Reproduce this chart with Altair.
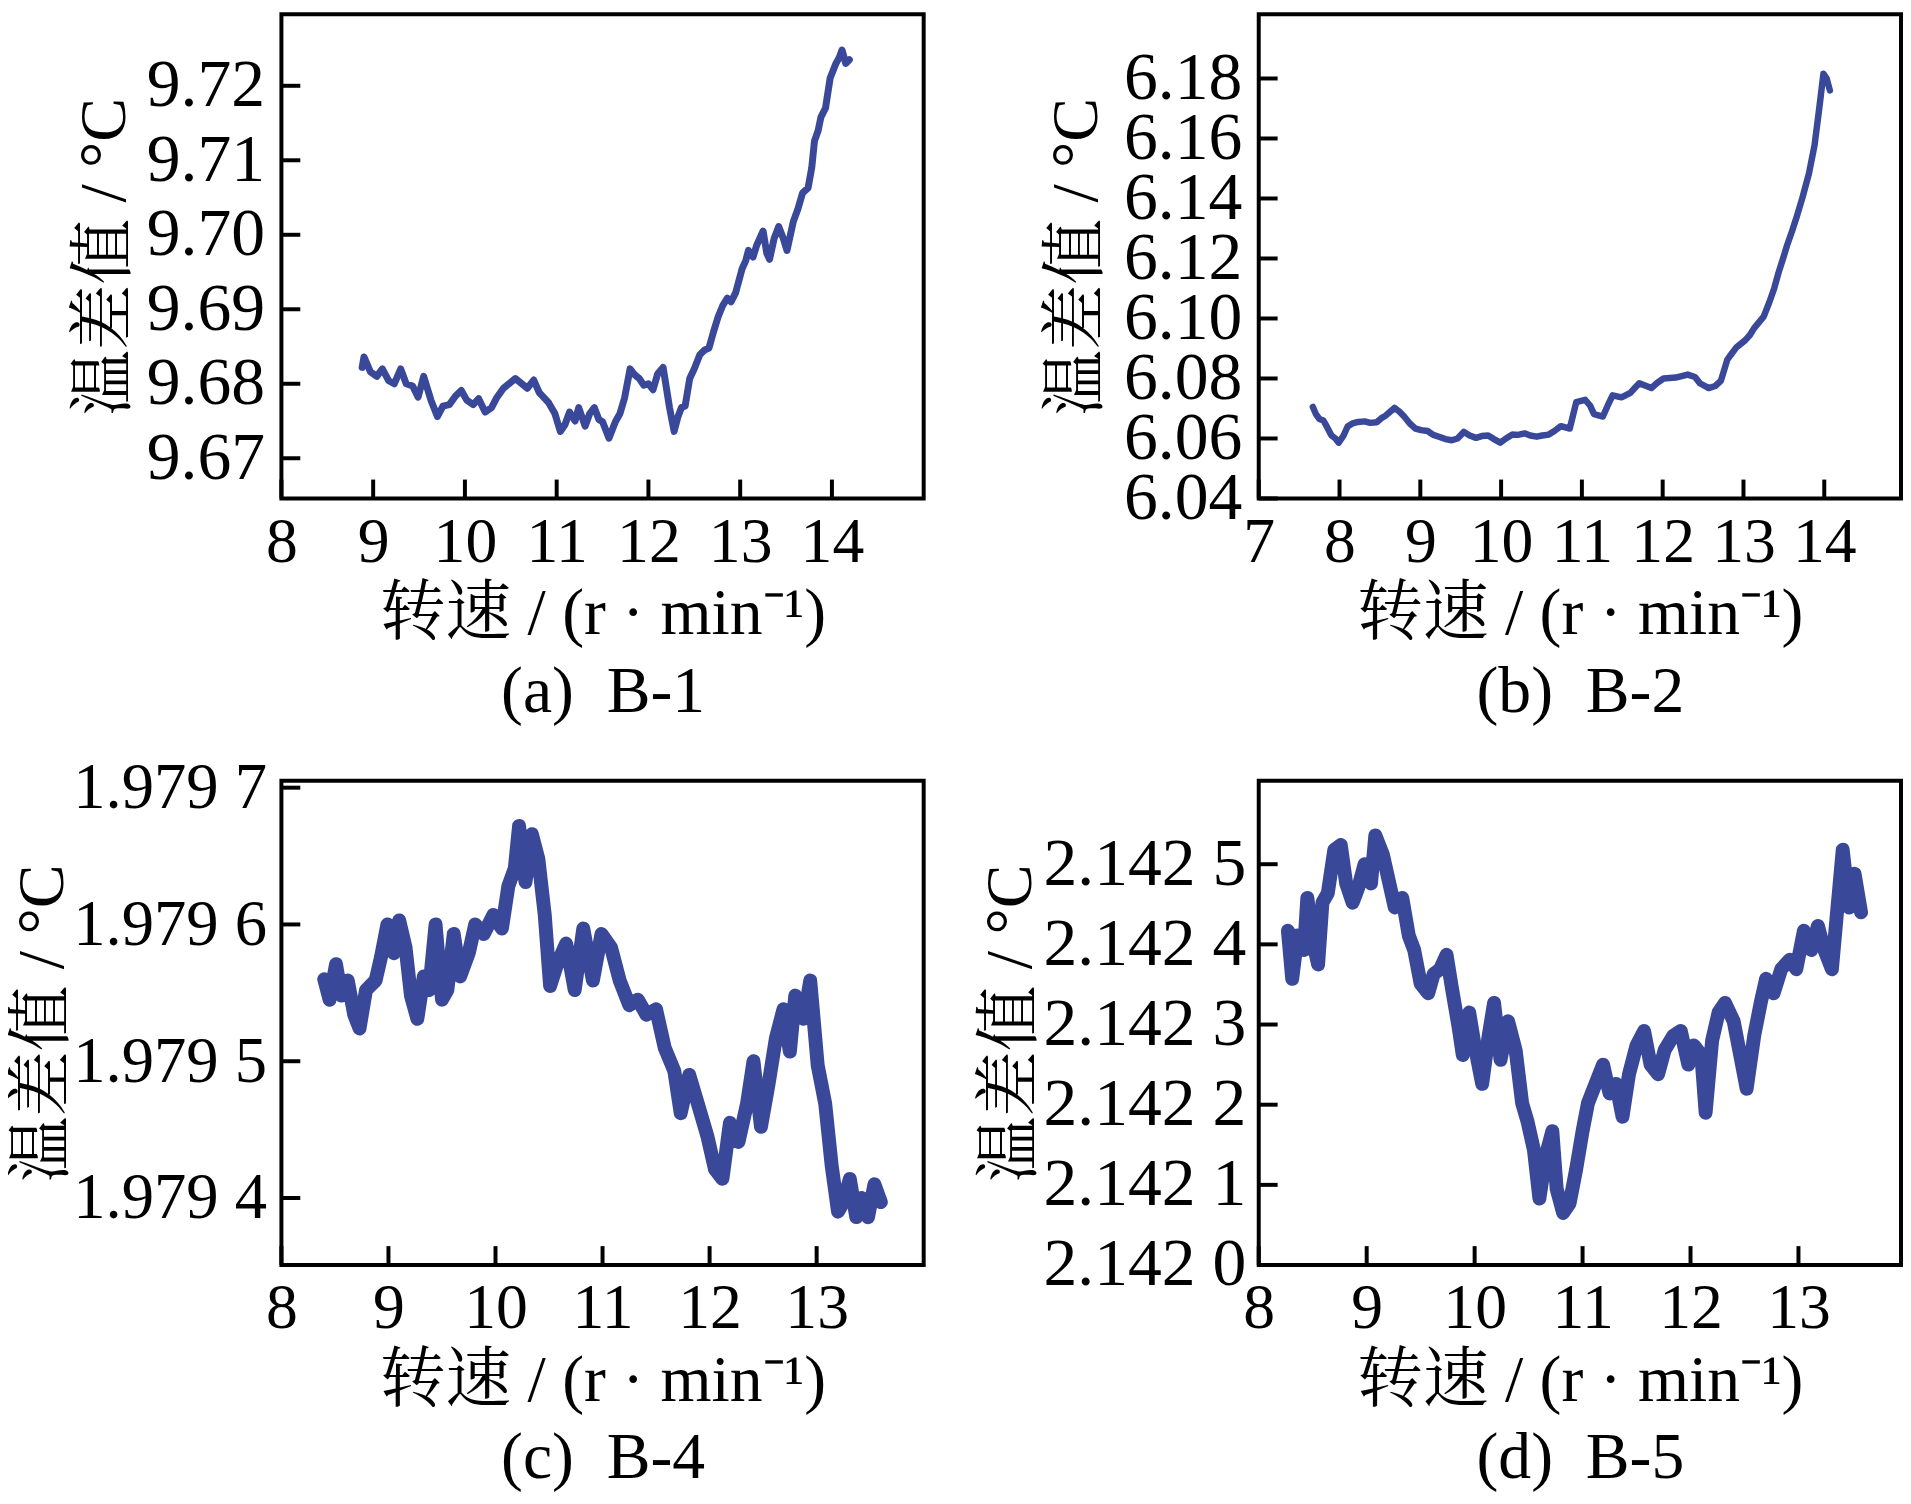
import altair as alt
import pandas as pd

# ---------------- data ----------------
a_x = [8.88, 8.90, 8.97, 9.04, 9.10, 9.17, 9.23, 9.30, 9.36, 9.43, 9.49, 9.55, 9.63, 9.70, 9.76, 9.83, 9.90, 9.96,
       10.02, 10.09, 10.15, 10.22, 10.29, 10.35, 10.42, 10.48, 10.55, 10.62, 10.68, 10.75, 10.81, 10.91, 10.98,
       11.04, 11.09, 11.14, 11.20, 11.24, 11.31, 11.36, 11.41, 11.46, 11.50, 11.57, 11.64, 11.69, 11.74, 11.80,
       11.85, 11.90, 11.95, 12.00, 12.05, 12.10, 12.16, 12.23, 12.28, 12.32, 12.36, 12.40, 12.45, 12.50, 12.56,
       12.61, 12.66, 12.71, 12.76, 12.81, 12.86, 12.90, 12.95, 13.02, 13.06, 13.09, 13.14, 13.18, 13.25, 13.29,
       13.32, 13.37, 13.42, 13.47, 13.51, 13.58, 13.63, 13.68, 13.74, 13.78, 13.81, 13.85, 13.88, 13.93, 13.98,
       14.04, 14.08, 14.11, 14.15, 14.19]
a_y = [9.6822, 9.6836, 9.6816, 9.6810, 9.6820, 9.6804, 9.6800, 9.6820, 9.6800, 9.6797, 9.6782, 9.6810, 9.6778,
       9.6756, 9.6770, 9.6772, 9.6784, 9.6791, 9.6778, 9.6772, 9.6780, 9.6762, 9.6768, 9.6782, 9.6794, 9.6800,
       9.6807, 9.6800, 9.6794, 9.6805, 9.6788, 9.6775, 9.6760, 9.6736, 9.6745, 9.6762, 9.6750, 9.6768, 9.6743,
       9.6760, 9.6768, 9.6752, 9.6749, 9.6727, 9.6749, 9.6760, 9.6781, 9.6820, 9.6812, 9.6807, 9.6798, 9.6800,
       9.6792, 9.6813, 9.6822, 9.6768, 9.6736, 9.6755, 9.6768, 9.6770, 9.6807, 9.6820, 9.6839, 9.6845, 9.6848,
       9.6870, 9.6890, 9.6905, 9.6915, 9.6910, 9.6922, 9.6954, 9.6965, 9.6979, 9.6970, 9.6986, 9.7005, 9.6975,
       9.6967, 9.6995, 9.7011, 9.6995, 9.6979, 9.7018, 9.7035, 9.7056, 9.7063, 9.7090, 9.7126, 9.7140, 9.7158,
       9.7170, 9.7210, 9.7229, 9.7238, 9.7248, 9.7230, 9.7235]

b_x = [7.67, 7.71, 7.75, 7.80, 7.84, 7.90, 7.95, 7.99, 8.05, 8.10, 8.16, 8.23, 8.31, 8.38, 8.46, 8.52, 8.57,
       8.63, 8.68, 8.74, 8.80, 8.87, 8.94, 9.01, 9.09, 9.16, 9.24, 9.31, 9.39, 9.46, 9.54, 9.61, 9.69, 9.76,
       9.84, 9.91, 9.99, 10.06, 10.14, 10.21, 10.29, 10.36, 10.44, 10.51, 10.59, 10.66, 10.74, 10.85, 10.93,
       11.04, 11.10, 11.15, 11.26, 11.32, 11.38, 11.49, 11.60, 11.66, 11.71, 11.86, 11.93, 12.01, 12.16, 12.31,
       12.40, 12.46, 12.57, 12.65, 12.72, 12.80, 12.86, 12.91, 13.02, 13.08, 13.13, 13.25, 13.32, 13.38, 13.43,
       13.49, 13.54, 13.60, 13.66, 13.73, 13.81, 13.88, 13.94, 13.99, 14.03, 14.07]
b_y = [6.0705, 6.0680, 6.0665, 6.0660, 6.0641, 6.0610, 6.0600, 6.0586, 6.0610, 6.0640, 6.0650, 6.0655, 6.0657,
       6.0652, 6.0654, 6.0668, 6.0676, 6.0690, 6.0702, 6.0690, 6.0673, 6.0650, 6.0633, 6.0628, 6.0625, 6.0612,
       6.0605, 6.0598, 6.0594, 6.0600, 6.0622, 6.0610, 6.0602, 6.0608, 6.0610, 6.0598, 6.0586, 6.0600, 6.0613,
       6.0612, 6.0617, 6.0610, 6.0606, 6.0610, 6.0613, 6.0625, 6.0641, 6.0633, 6.0721, 6.0729, 6.0710, 6.0681,
       6.0673, 6.0710, 6.0744, 6.0737, 6.0752, 6.0770, 6.0784, 6.0768, 6.0785, 6.0800, 6.0803, 6.0813, 6.0805,
       6.0784, 6.0768, 6.0775, 6.0792, 6.0863, 6.0885, 6.0903, 6.0927, 6.0945, 6.0967, 6.1006, 6.1054, 6.1100,
       6.1149, 6.1200, 6.1244, 6.1290, 6.1340, 6.1403, 6.1483, 6.1578, 6.1705, 6.1816, 6.1800, 6.1760]

c_x = [8.40, 8.45, 8.51, 8.56, 8.62, 8.68, 8.73, 8.79, 8.88, 8.93, 8.99, 9.05, 9.10, 9.16, 9.21, 9.27, 9.33,
       9.38, 9.44, 9.50, 9.55, 9.61, 9.67, 9.75, 9.81, 9.89, 9.98, 10.06, 10.12, 10.18, 10.22, 10.28, 10.34,
       10.40, 10.46, 10.51, 10.58, 10.66, 10.74, 10.82, 10.91, 10.99, 11.08, 11.16, 11.25, 11.33, 11.41, 11.50,
       11.58, 11.67, 11.73, 11.81, 11.89, 11.98, 12.05, 12.12, 12.19, 12.27, 12.35, 12.41, 12.48, 12.55, 12.62,
       12.69, 12.75, 12.80, 12.88, 12.94, 13.01, 13.08, 13.14, 13.20, 13.25, 13.31, 13.37, 13.42, 13.48, 13.54,
       13.60]
c_y = [1.979560, 1.979545, 1.979571, 1.979548, 1.979559, 1.979534, 1.979524, 1.979552, 1.979559, 1.979576,
       1.979600, 1.979579, 1.979603, 1.979583, 1.979548, 1.979531, 1.979562, 1.979552, 1.979600, 1.979545,
       1.979552, 1.979593, 1.979562, 1.979579, 1.979600, 1.979593, 1.979607, 1.979597, 1.979628, 1.979641,
       1.979672, 1.979631, 1.979666, 1.979648, 1.979607, 1.979555, 1.979572, 1.979586, 1.979552, 1.979597,
       1.979559, 1.979593, 1.979583, 1.979559, 1.979541, 1.979545, 1.979534, 1.979538, 1.979510, 1.979493,
       1.979462, 1.979490, 1.979469, 1.979445, 1.979421, 1.979414, 1.979455, 1.979441, 1.979469, 1.979500,
       1.979452, 1.979483, 1.979517, 1.979538, 1.979507, 1.979548, 1.979531, 1.979559, 1.979497, 1.979469,
       1.979424, 1.979390, 1.979397, 1.979414, 1.979386, 1.979400, 1.979386, 1.979410, 1.979397]

d_x = [8.27, 8.31, 8.36, 8.42, 8.45, 8.50, 8.55, 8.59, 8.64, 8.70, 8.76, 8.81, 8.87, 8.92, 8.98, 9.04, 9.08,
       9.15, 9.20, 9.26, 9.33, 9.39, 9.44, 9.50, 9.57, 9.62, 9.68, 9.74, 9.79, 9.85, 9.89, 9.95, 10.00, 10.07,
       10.13, 10.18, 10.24, 10.31, 10.38, 10.44, 10.49, 10.55, 10.60, 10.66, 10.72, 10.76, 10.82, 10.88, 10.94,
       11.00, 11.05, 11.12, 11.19, 11.25, 11.31, 11.37, 11.43, 11.50, 11.57, 11.63, 11.70, 11.76, 11.84, 11.91,
       11.98, 12.03, 12.10, 12.14, 12.20, 12.26, 12.32, 12.40, 12.46, 12.52, 12.59, 12.65, 12.70, 12.77, 12.84,
       12.92, 12.98, 13.05, 13.12, 13.18, 13.24, 13.31, 13.35, 13.41, 13.47, 13.52, 13.58]
d_y = [2.142417, 2.142357, 2.142411, 2.142393, 2.142458, 2.142405, 2.142375, 2.142452, 2.142464, 2.142518,
       2.142524, 2.142476, 2.142452, 2.142470, 2.142500, 2.142476, 2.142536, 2.142512, 2.142482, 2.142446,
       2.142458, 2.142411, 2.142393, 2.142351, 2.142339, 2.142363, 2.142369, 2.142387, 2.142345, 2.142298,
       2.142262, 2.142315, 2.142274, 2.142226, 2.142286, 2.142327, 2.142256, 2.142304, 2.142268, 2.142202,
       2.142179, 2.142143, 2.142083, 2.142137, 2.142167, 2.142095, 2.142065, 2.142077, 2.142119, 2.142167,
       2.142202, 2.142226, 2.142250, 2.142214, 2.142226, 2.142185, 2.142238, 2.142274, 2.142292, 2.142250,
       2.142238, 2.142268, 2.142286, 2.142292, 2.142250, 2.142274, 2.142262, 2.142190, 2.142280, 2.142315,
       2.142327, 2.142304, 2.142262, 2.142220, 2.142286, 2.142327, 2.142357, 2.142339, 2.142369, 2.142381,
       2.142369, 2.142417, 2.142393, 2.142423, 2.142393, 2.142369, 2.142429, 2.142518, 2.142446, 2.142488,
       2.142440]

a_xticks = [8, 9, 10, 11, 12, 13, 14]
a_yticks = [9.67, 9.68, 9.69, 9.70, 9.71, 9.72]
b_xticks = [7, 8, 9, 10, 11, 12, 13, 14]
b_yticks = [6.04, 6.06, 6.08, 6.10, 6.12, 6.14, 6.16, 6.18]
c_xticks = [8, 9, 10, 11, 12, 13]
c_yticks = [1.9794, 1.9795, 1.9796, 1.9797]
d_xticks = [8, 9, 10, 11, 12, 13]
d_yticks = [2.1420, 2.1421, 2.1422, 2.1423, 2.1424, 2.1425]

x_title = "转速 / (r · min⁻¹)"
y_title = "温差值 / °C"
captions = ["(a)\u00a0\u00a0B-1", "(b)\u00a0\u00a0B-2", "(c)\u00a0\u00a0B-4", "(d)\u00a0\u00a0B-5"]

FONT = "Liberation Serif, 'Noto Serif CJK SC', 'Noto Sans CJK SC'"
COLOR = "#3a4899"
W, H = 646, 487
TICK = 19


def panel(xs, ys, xdom, ydom, xticks, yticks, caption, stroke, ylabel_expr, ypad, ytitlepad, ylfs):
    df = pd.DataFrame({"x": xs, "y": ys})
    xscale = alt.Scale(domain=xdom, nice=False, zero=False)
    yscale = alt.Scale(domain=ydom, nice=False, zero=False)
    xaxis = alt.Axis(values=xticks, title=[x_title, caption], ticks=False, domain=False, grid=False,
                     labelFlush=False, labelOverlap=False, labelPadding=12, labelFontSize=64,
                     labelLimit=0, titleFontSize=66, titleLineHeight=78, titlePadding=8, format="d")
    yaxis_kw = dict(values=yticks, title=y_title, ticks=False, domain=False, grid=False,
                    labelFlush=False, labelOverlap=False, labelPadding=ypad, labelFontSize=ylfs,
                    labelLimit=0, titleFontSize=66, titlePadding=ytitlepad)
    if ylabel_expr:
        yaxis_kw["labelExpr"] = ylabel_expr
    else:
        yaxis_kw["format"] = ".2f"
    yaxis = alt.Axis(**yaxis_kw)

    line = alt.Chart(df).mark_line(color=COLOR, strokeWidth=stroke, strokeJoin="round", strokeCap="round").encode(
        x=alt.X("x:Q", scale=xscale, axis=xaxis),
        y=alt.Y("y:Q", scale=yscale, axis=yaxis),
    )
    xt = alt.Chart(pd.DataFrame({"v": xticks})).mark_rule(color="black", strokeWidth=4).encode(
        x=alt.X("v:Q", scale=xscale),
        y=alt.value(H),
        y2=alt.value(H - TICK),
    )
    yt = alt.Chart(pd.DataFrame({"v": yticks})).mark_rule(color="black", strokeWidth=4).encode(
        y=alt.Y("v:Q", scale=yscale),
        x=alt.value(0),
        x2=alt.value(TICK),
    )
    return alt.layer(line, xt, yt).properties(width=W, height=H)


c_expr = "substring(format(datum.value,'.4f'),0,5) + ' ' + substring(format(datum.value,'.4f'),5)"

pa = panel(a_x, a_y, [8, 15], [9.6646, 9.7296], a_xticks, a_yticks, captions[0], 7, None, 17, 8, 68)
pb = panel(b_x, b_y, [7, 14.95], [6.04, 6.2014], b_xticks, b_yticks, captions[1], 6.5, None, 17, 13, 68)
pc = panel(c_x, c_y, [8, 14], [1.979351, 1.979705], c_xticks, c_yticks, captions[2], 14, c_expr, 15, 6, 65)
pd_ = panel(d_x, d_y, [8, 13.95], [2.1420, 2.142604], d_xticks, d_yticks, captions[3], 14, c_expr, 13, 16, 68)

chart = alt.concat(pa, pb, pc, pd_, columns=2, spacing={"row": 284, "column": 337}, bounds="flush").properties(
    padding=0
).configure_view(
    stroke="black", strokeWidth=4
).configure_axis(
    labelFont=FONT, titleFont=FONT, labelColor="black", titleColor="black", titleFontWeight="normal"
)

chart.save("out.html", embed_options={"renderer": "svg", "actions": False})
